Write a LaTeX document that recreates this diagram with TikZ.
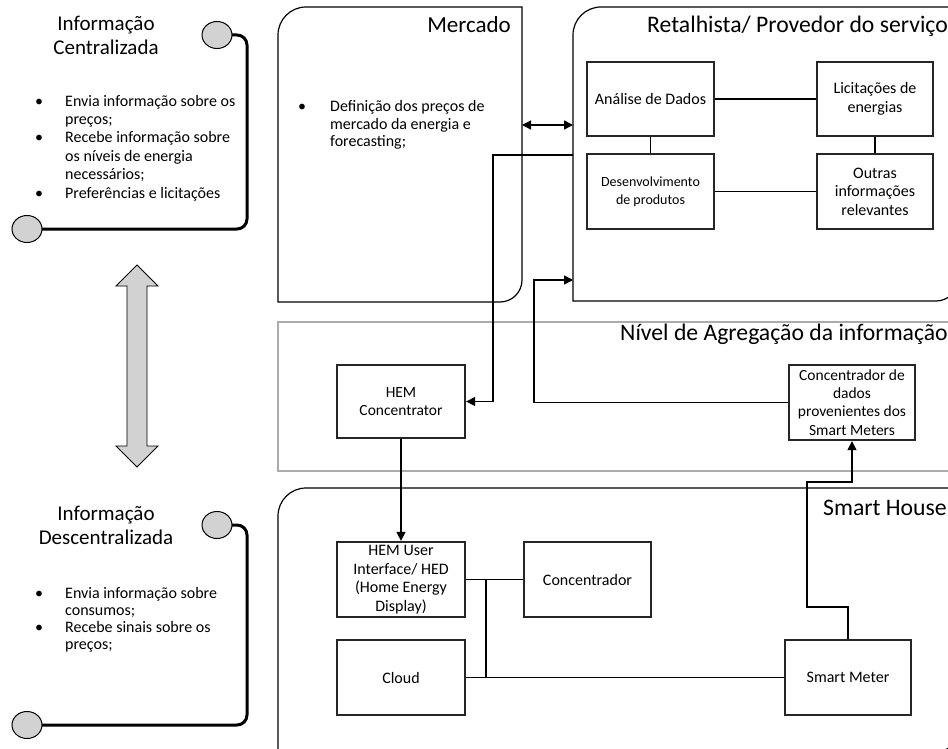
\documentclass[tikz,border=0pt]{standalone}
\usepackage{fontspec}
\setmainfont{Carlito}
\usetikzlibrary{arrows.meta,calc}
\tikzset{
  container/.style={draw=black,line width=1.2pt},
  inbox/.style={draw=black!85,line width=2.3pt,align=center,inner sep=0pt,font=\fontsize{16}{18.5}\selectfont},
  conn/.style={draw=black,line width=1.4pt},
  arr/.style={conn,-{Triangle[length=9pt,width=9pt]}},
  darr/.style={conn,{Triangle[length=9pt,width=9pt]}-{Triangle[length=9pt,width=9pt]}},
  bracket/.style={draw=black,line width=3pt,rounded corners=10pt},
  knob/.style={draw=black,line width=1pt,fill=gray!35},
  sidettl/.style={font=\fontsize{21}{22}\selectfont,anchor=base,inner sep=0pt},
  ctitle/.style={font=\fontsize{23.7}{24}\selectfont,anchor=base west,inner sep=0pt},
  btxt/.style={font=\fontsize{16}{18}\selectfont,anchor=base west,inner sep=0pt},
  bdot/.style={font=\fontsize{16}{18}\selectfont,anchor=base,inner sep=0pt},
}
\begin{document}
\begin{tikzpicture}[x=1pt,y=-1pt]
\useasboundingbox (0,0) rectangle (948,749);
\fill[white] (0,0) rectangle (948,749);
\clip (0,0) rectangle (948,749);

% ---------- left side: centralised ----------
\draw[bracket] (232,35) -- (247,35) -- (247,229) -- (42,229);
\draw[knob] (217,35) ellipse [x radius=15, y radius=13.5];
\draw[knob] (27,229) ellipse [x radius=15, y radius=13.5];
\node[sidettl] (c1) at (106,31) {Informação};
\node[sidettl] (c2) at (106,55) {Centralizada};
\node[bdot] (cb1) at (39,107) {\textbullet};
\node[btxt] (cl1) at (65,107) {Envia informação sobre os};
\node[btxt] (cl2) at (65,125) {preços;};
\node[bdot] (cb2) at (39,143) {\textbullet};
\node[btxt] (cl3) at (65,143) {Recebe informação sobre};
\node[btxt] (cl4) at (65,161) {os níveis de energia};
\node[btxt] (cl5) at (65,179) {necessários;};
\node[bdot] (cb3) at (39,198) {\textbullet};
\node[btxt] (cl6) at (65,198) {Preferências e licitações};

% ---------- double arrow ----------
\draw[fill=gray!35,draw=black,line width=0.8pt]
  (137,265) -- (158,286) -- (147,286) -- (147,446) -- (158,446) -- (137,467)
  -- (116,446) -- (127,446) -- (127,286) -- (116,286) -- cycle;

% ---------- left side: decentralised ----------
\draw[bracket] (232,525) -- (247,525) -- (247,725) -- (42,725);
\draw[knob] (217,525) ellipse [x radius=15, y radius=13.5];
\draw[knob] (27,725) ellipse [x radius=15, y radius=13.5];
\node[sidettl] (d1) at (106,520) {Informação};
\node[sidettl] (d2) at (106,544) {Descentralizada};
\node[bdot] (db1) at (39,598) {\textbullet};
\node[btxt] (dl1) at (65,598) {Envia informação sobre};
\node[btxt] (dl2) at (65,615) {consumos;};
\node[bdot] (db2) at (39,632) {\textbullet};
\node[btxt] (dl3) at (65,632) {Recebe sinais sobre os};
\node[btxt] (dl4) at (65,649) {preços;};

% ---------- containers ----------
\draw[container] (278,302) -- (278,35) arc[start angle=180,end angle=270,radius=28]
  -- (522,7) -- (522,280) arc[start angle=0,end angle=90,radius=22] -- cycle;
\node[ctitle,anchor=base east,font=\fontsize{23}{24}\selectfont] (mt) at (511,33) {Mercado};
\node[bdot] (mb) at (302,112) {\textbullet};
\node[btxt] (m1) at (330,112) {Definição dos preços de};
\node[btxt] (m2) at (330,129.5) {mercado da energia e};
\node[btxt] (m3) at (330,147) {forecasting;};

\draw[container] (573,301) -- (573,35) arc[start angle=180,end angle=270,radius=28]
  -- (958,7) -- (958,279) arc[start angle=0,end angle=90,radius=22] -- cycle;
\node[ctitle] (rt) at (647,33) {Retalhista/ Provedor do serviço};

\draw[draw=gray!65,line width=2.4pt] (278,322) rectangle (962,471);
\node[ctitle] (nt) at (620,340) {Nível de Agregação da informação};

\draw[container] (278,756) -- (278,516) arc[start angle=180,end angle=270,radius=28]
  -- (958,488) -- (958,730) arc[start angle=0,end angle=90,radius=22] -- cycle;
\node[ctitle] (st) at (823,515) {Smart House};

% ---------- inner boxes ----------
\node[inbox,minimum width=127pt,minimum height=74pt] (ana) at (650.5,99) {Análise de Dados};
\node[inbox,minimum width=116pt,minimum height=74pt] (lic) at (875,99) {Licitações de\\energias};
\node[inbox,minimum width=127pt,minimum height=75pt,font=\fontsize{14}{18}\selectfont] (des) at (650.5,191.5) {Desenvolvimento\\de produtos};
\node[inbox,minimum width=116pt,minimum height=75pt] (out) at (875,191.5) {Outras\\informações\\relevantes};

\node[inbox,minimum width=128pt,minimum height=73pt,font=\fontsize{15.5}{17.5}\selectfont] (hemc) at (401,401.5) {HEM\\Concentrator};
\node[inbox,minimum width=126pt,minimum height=75pt,font=\fontsize{15.5}{18.3}\selectfont] (cdd) at (852,402.5) {Concentrador de\\dados\\provenientes dos\\Smart Meters};

\node[inbox,minimum width=128pt,minimum height=75pt,font=\fontsize{16}{18.5}\selectfont] (hemu) at (401,579.5) {HEM User\\Interface/ HED\\(Home Energy\\Display)};
\node[inbox,minimum width=127pt,minimum height=75pt] (conc) at (587.5,579.5) {Concentrador};
\node[inbox,minimum width=128pt,minimum height=75pt] (cloud) at (401,677.5) {Cloud};
\node[inbox,minimum width=126pt,minimum height=75pt] (sm) at (848,677.5) {Smart Meter};

% ---------- connectors ----------
\draw[conn] (ana) -- (lic);
\draw[conn] (ana) -- (des);
\draw[conn] (lic) -- (out);
\draw[conn] (des) -- (out);

\coordinate (mkE) at (522,125);
\coordinate (rtW) at (573,125);
\draw[darr] (mkE) -- (rtW);

\coordinate (rtA) at (573,155);
\draw[arr] (rtA) -| ([xshift=27pt]hemc.east) -- (hemc.east);

\coordinate (rtB) at (573,280);
\coordinate (jB) at (534,280);
\draw[arr] (cdd.west) -| (jB) -- (rtB);

\draw[arr] (hemc) -- (hemu);

\coordinate (jC) at (807,482);
\draw[arr] (sm.north) -- ++(0,-32) -| (jC) -| (cdd.south);

\draw[conn] (hemu) -- (conc);
\draw[conn] (cloud) -- (sm);
\draw[conn] ([xshift=20pt]hemu.east) -- ([xshift=20pt]cloud.east);
\end{tikzpicture}
\end{document}
